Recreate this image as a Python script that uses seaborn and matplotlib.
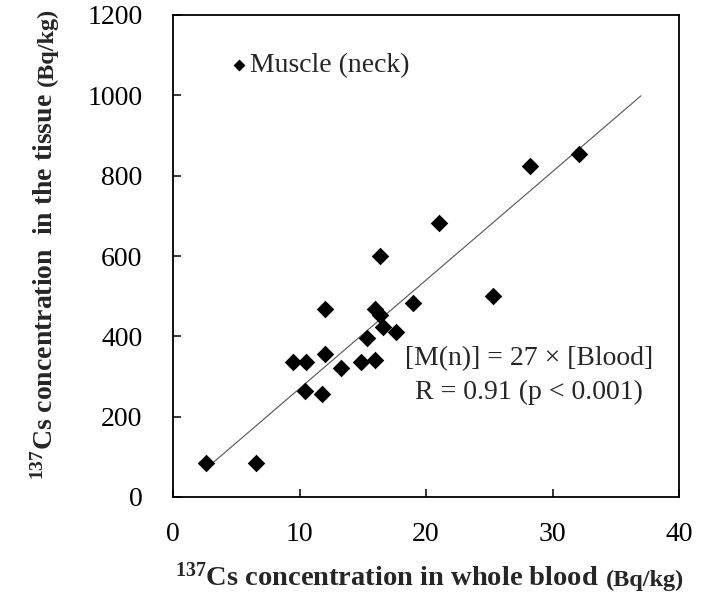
import matplotlib
matplotlib.use("Agg")
import matplotlib.pyplot as plt
import seaborn as sns
import pandas as pd

# 137Cs in whole blood (Bq/kg) vs. muscle of the neck (Bq/kg)
blood = [2.6, 6.6, 9.5, 10.5, 10.4, 11.8, 12.0, 12.0, 13.3, 14.9, 15.3, 16.0,
         16.0, 16.4, 16.6, 17.6, 16.4, 19.0, 21.0, 25.3, 28.2, 32.1]
muscle = [84, 84, 337, 337, 263, 257, 355, 469, 320, 337, 397, 342,
          467, 454, 423, 412, 600, 484, 682, 501, 824, 853]
slope = 27
fit_x = [2.6, 37.0]
x_ticks = [0, 10, 20, 30, 40]
y_ticks = [0, 200, 400, 600, 800, 1000, 1200]

df = pd.DataFrame({"blood": blood, "muscle": muscle})
fit = pd.DataFrame({"x": fit_x, "y": [slope * v for v in fit_x]})

sns.set_style("ticks")
plt.rcParams["font.family"] = ["Liberation Serif", "DejaVu Serif"]
plt.rcParams["mathtext.fontset"] = "custom"
plt.rcParams["mathtext.rm"] = "Liberation Serif"
plt.rcParams["mathtext.bf"] = "Liberation Serif:bold"

W, H = 728, 594
fig = plt.figure(figsize=(W / 100, H / 100), dpi=100)
ax = fig.add_axes([173 / W, 1 - 497 / H, (679 - 173) / W, (497 - 15) / H])

sns.lineplot(data=fit, x="x", y="y", ax=ax, color="#555555", lw=0.8)
sns.scatterplot(data=df, x="blood", y="muscle", ax=ax, marker="D", s=80,
                color="black", edgecolor="black", linewidth=0, zorder=3,
                label="Muscle (neck)")

ax.set_xlim(0, 40)
ax.set_ylim(0, 1200)
ax.set_xticks(x_ticks)
ax.set_yticks(y_ticks)
ax.tick_params(direction="in", length=6, width=1.1, labelsize=20, colors="black")
ax.tick_params(axis="y", pad=22)
ax.tick_params(axis="x", pad=18)
for sp in ax.spines.values():
    sp.set_visible(True)
    sp.set_linewidth(1.3)
    sp.set_color("black")
ax.set_xlabel("")
ax.set_ylabel("")

ax.legend(loc="center left", bbox_to_anchor=(0.113, 0.895), frameon=False,
          fontsize=20, handletextpad=0.1, handlelength=0.6,
          borderpad=0, borderaxespad=0, markerscale=0.68)

ax.text(0.703, 0.288, "[M(n)] = 27 \u00d7 [Blood]", transform=ax.transAxes,
        ha="center", va="center", fontsize=20)
ax.text(0.703, 0.218, "R = 0.91 (p < 0.001)", transform=ax.transAxes,
        ha="center", va="center", fontsize=20)

# Axis titles assembled from pieces of two sizes
fig.canvas.draw()
renderer = fig.canvas.get_renderer()
gap = 7

t1 = fig.text(175 / W, 1 - 586 / H,
              r"$\mathbf{^{137}}$Cs concentration in whole blood",
              fontsize=20.5, fontweight="bold", ha="left", va="baseline")
bb = t1.get_window_extent(renderer)
fig.text((bb.x1 + gap) / W, 1 - 586 / H, "(Bq/kg)", fontsize=17.5,
         fontweight="bold", ha="left", va="baseline")

t2 = fig.text(53 / W, 1 - 480 / H,
              r"$\mathbf{^{137}}$Cs concentration  in the tissue",
              fontsize=20, fontweight="bold", rotation=90, ha="left",
              va="baseline", rotation_mode="anchor")
bb2 = t2.get_window_extent(renderer)
fig.text(53 / W, (bb2.y1 + gap) / H, "(Bq/kg)", fontsize=17.5,
         fontweight="bold", rotation=90, ha="left", va="baseline",
         rotation_mode="anchor")

fig.savefig("out.png", dpi=100)
